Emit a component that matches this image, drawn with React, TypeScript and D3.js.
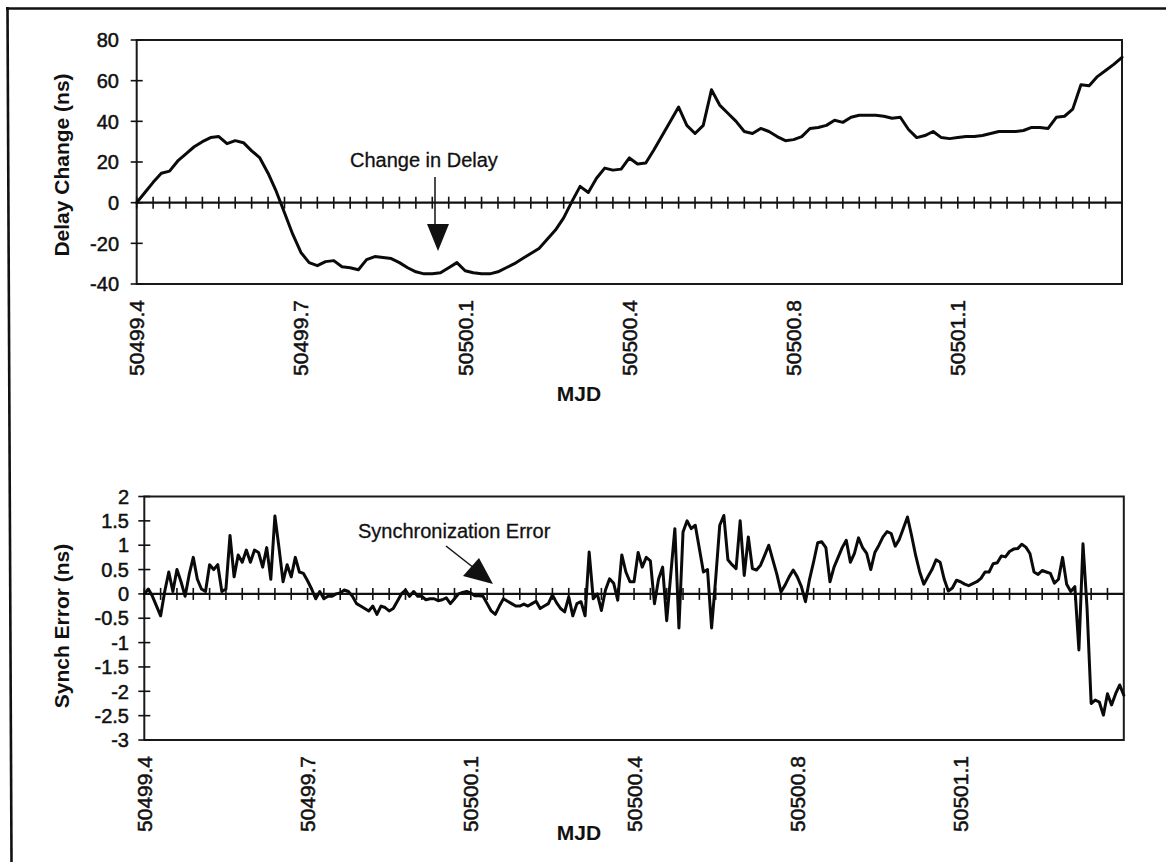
import React from 'react';
import * as d3 from 'd3';

// ---------- data ----------
// MJD category labels shown every 10 tick intervals
const xLabels = ['50499.4', '50499.7', '50500.1', '50500.4', '50500.8', '50501.1'];
const tickCount = 60; // tick-mark intervals across the category axis
const labelEvery = 10;

// Delay change (ns), sampled every 0.5 tick interval
const delayStep = 0.5;
const delayChange = [
  0, 5, 10, 14.5, 15.5, 20.5, 24, 27.5, 30, 32, 32.5, 29, 30.5, 29.5, 25.5, 22,
  14.5, 5.5, -5, -15.5, -24.5, -29.5, -31, -29, -28.5, -31.5, -32, -33, -28, -26.5,
  -27, -27.5, -29.5, -32, -34, -35, -35, -34.5, -32, -29.5, -33.5, -34.5, -35, -35,
  -34, -32, -30, -27.5, -25, -22.5, -18, -13.5, -7.5, 0.5, 8, 5, 12, 17, 16, 16.5,
  22, 19, 19.5, 26, 33, 40, 47, 38, 34, 38, 55.5, 48, 44, 40, 35, 34, 36.5, 35,
  32.5, 30.5, 31, 32.5, 36.5, 37, 38, 40.5, 39.5, 42, 43, 43, 43, 42.5, 41.5, 42,
  36, 32, 33, 35, 32, 31.5, 32, 32.5, 32.5, 33, 34, 35, 35, 35, 35.5, 37, 37, 36.5,
  42, 42.5, 46, 58, 57.5, 62, 65, 68, 71.5,
];

// Synchronization error (ns), sampled every 0.25 tick interval
const synchStep = 0.25;
const synchError = [
  0, 0.1, -0.05, -0.25, -0.45, 0.05, 0.45, 0.05, 0.5, 0.25, -0.05, 0.4,
  0.75, 0.3, 0.1, 0.05, 0.6, 0.5, 0.6, 0.05, 0.1, 1.2, 0.35, 0.8,
  0.65, 0.9, 0.65, 0.9, 0.85, 0.55, 0.95, 0.3, 1.6, 0.95, 0.25, 0.6,
  0.35, 0.75, 0.45, 0.42, 0.27, 0.1, -0.1, 0.05, -0.1, -0.05, -0.05, 0,
  0.02, 0.08, 0.05, -0.05, -0.2, -0.25, -0.3, -0.35, -0.25, -0.42, -0.25, -0.28,
  -0.35, -0.3, -0.15, 0, 0.08, -0.05, 0.05, -0.05, -0.05, -0.12, -0.1, -0.1,
  -0.14, -0.12, -0.08, -0.2, -0.1, 0, 0.03, 0.05, 0.02, -0.04, -0.04, -0.05,
  -0.2, -0.35, -0.42, -0.25, -0.1, -0.15, -0.2, -0.25, -0.25, -0.21, -0.25, -0.2,
  -0.15, -0.3, -0.25, -0.2, -0.02, -0.18, -0.3, -0.37, -0.06, -0.45, -0.2, -0.16,
  -0.45, 0.86, -0.1, 0.0, -0.34, 0.08, 0.31, 0.22, -0.13, 0.8, 0.45, 0.25,
  0.25, 0.85, 0.55, 0.75, 0.68, -0.2, 0.3, 0.55, -0.55, 0.4, 1.34, -0.7,
  1.27, 1.5, 1.34, 1.41, 0.93, 0.45, 0.5, -0.7, 0.31, 1.41, 1.61, 0.7,
  0.6, 0.52, 1.5, 0.38, 1.17, 0.52, 0.49, 0.59, 0.79, 1.0, 0.7, 0.4,
  0.04, 0.18, 0.35, 0.49, 0.35, 0.15, -0.16, 0.3, 0.66, 1.05, 1.07, 0.95,
  0.25, 0.55, 0.75, 0.95, 1.1, 0.65, 0.83, 1.15, 0.95, 0.83, 0.5, 0.85,
  1.0, 1.17, 1.28, 1.24, 0.98, 1.12, 1.35, 1.58, 1.2, 0.79, 0.45, 0.2,
  0.35, 0.5, 0.7, 0.65, 0.3, 0.06, 0.12, 0.28, 0.25, 0.2, 0.17, 0.21,
  0.25, 0.32, 0.45, 0.45, 0.62, 0.64, 0.78, 0.76, 0.87, 0.92, 0.93, 1.02,
  0.96, 0.83, 0.45, 0.4, 0.48, 0.45, 0.42, 0.22, 0.3, 0.75, 0.2, 0.05,
  0.15, -1.15, 1.03, -0.3, -2.25, -2.18, -2.22, -2.49, -2.05, -2.28, -2.05, -1.87,
  -2.08,
];

const delayTicks = [80, 60, 40, 20, 0, -20, -40];
const synchTicks = [2, 1.5, 1, 0.5, 0, -0.5, -1, -1.5, -2, -2.5, -3];

const FONT = '"Liberation Sans", Arial, Helvetica, sans-serif';
const INK = '#111';

type PanelProps = {
  left: number; right: number; top: number; bottom: number;
  yDomain: [number, number];
  yTicks: number[];
  values: number[];
  step: number;
  yTitle: string;
  yTitleY: number;
  labelRight: number;
  mjdY: number;
};

function Panel(p: PanelProps) {
  const x = d3.scaleLinear().domain([0, tickCount]).range([p.left, p.right]);
  const y = d3.scaleLinear().domain(p.yDomain).range([p.bottom, p.top]);
  const line = d3.line<number>()
    .x((_, i) => x(i * p.step))
    .y((d) => y(d));
  const zero = y(0);
  const ticks = d3.range(0, tickCount);
  return (
    <g>
      {/* plot frame */}
      <rect x={p.left} y={p.top} width={p.right - p.left} height={p.bottom - p.top}
        fill="none" stroke="#1a1a1a" strokeWidth={2} />
      {/* y ticks */}
      {p.yTicks.map((t) => (
        <g key={'y' + t}>
          <line x1={p.left - 6} x2={p.left + 6} y1={y(t)} y2={y(t)} stroke={INK} strokeWidth={1.6} />
          <text x={p.labelRight} y={y(t)} dy="0.36em" textAnchor="end" fontSize={20}
            fontFamily={FONT} fill={INK} stroke={INK} strokeWidth={0.5}>{String(t)}</text>
        </g>
      ))}
      {/* zero line with category tick marks */}
      <line x1={p.left} x2={p.right} y1={zero} y2={zero} stroke={INK} strokeWidth={2.2} />
      {ticks.map((t) => (
        <line key={'x' + t} x1={x(t)} x2={x(t)} y1={zero - 6} y2={zero + 6} stroke={INK} strokeWidth={1.6} />
      ))}
      {/* category labels */}
      {xLabels.map((lab, i) => {
        const xx = x(i * labelEvery);
        const yy = p.bottom + 16;
        return (
          <text key={lab} transform={`translate(${xx + 7.5},${yy}) rotate(-90)`} textAnchor="end"
            fontSize={21} fontFamily={FONT} fill={INK} stroke={INK} strokeWidth={0.5}>{lab}</text>
        );
      })}
      {/* data */}
      <path d={line(p.values) || ''} fill="none" stroke="#0a0a0a" strokeWidth={3}
        strokeLinejoin="round" strokeLinecap="round" />
      {/* titles */}
      <text transform={`translate(69,${p.yTitleY}) rotate(-90)`} textAnchor="middle" fontSize={21}
        fontWeight="bold" fontFamily={FONT} fill={INK}>{p.yTitle}</text>
      <text x={579} y={p.mjdY} textAnchor="middle" fontSize={21} fontWeight="bold"
        fontFamily={FONT} fill={INK}>MJD</text>
    </g>
  );
}

export default function App() {
  return (
    <svg width={1166} height={862} viewBox="0 0 1166 862"
      style={{ position: 'absolute', left: 0, top: 0, background: '#fff' }}>
      <rect x={0} y={0} width={1166} height={862} fill="#fff" />
      {/* outer frame (left and top edges) */}
      <line x1={6} y1={8.5} x2={1166} y2={8.5} stroke={INK} strokeWidth={2.6} />
      <line x1={7.5} y1={7} x2={11.5} y2={862} stroke={INK} strokeWidth={2.6} />

      <Panel left={136.7} right={1122} top={40} bottom={284} yDomain={[-40, 80]}
        yTicks={delayTicks} values={delayChange} step={delayStep}
        yTitle="Delay Change (ns)" yTitleY={165} labelRight={119} mjdY={401} />
      <Panel left={144.3} right={1123.8} top={496.5} bottom={740} yDomain={[-3, 2]}
        yTicks={synchTicks} values={synchError} step={synchStep}
        yTitle="Synch Error (ns)" yTitleY={626} labelRight={129} mjdY={840} />

      {/* annotation: Change in Delay */}
      <text x={350} y={167} fontSize={20} fontFamily={FONT} fill={INK} stroke={INK} strokeWidth={0.3}>Change in Delay</text>
      <line x1={435} y1={177} x2={435} y2={226} stroke={INK} strokeWidth={1.5} />
      <polygon points="427,224 449,224 438,251" fill={INK} />

      {/* annotation: Synchronization Error */}
      <text x={358} y={538} fontSize={20} fontFamily={FONT} fill={INK} stroke={INK} strokeWidth={0.3}>Synchronization Error</text>
      <line x1={446} y1={546} x2={474} y2={568} stroke={INK} strokeWidth={1.5} />
      <polygon points="463,576 479,558 493,584" fill={INK} />
    </svg>
  );
}
